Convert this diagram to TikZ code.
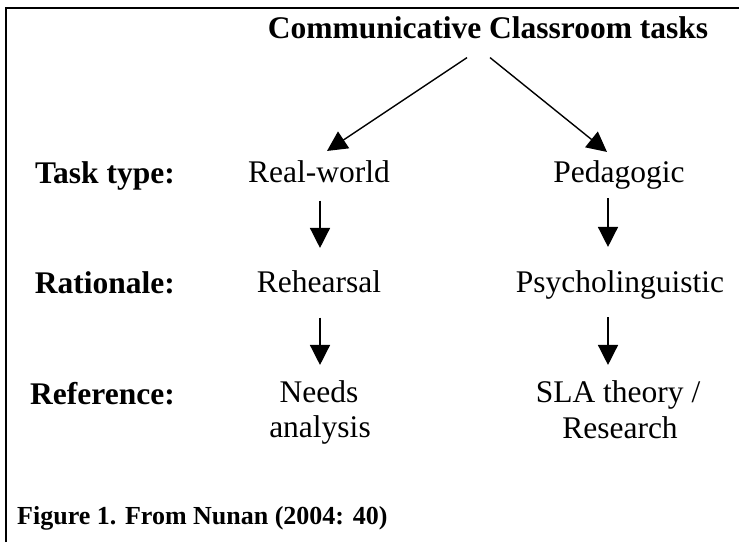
\documentclass[tikz,border=0pt]{standalone}
\usepackage{fontspec}
\setmainfont{Liberation Serif}
\usetikzlibrary{arrows.meta,calc}

\begin{document}
\begin{tikzpicture}[x=1pt,y=-1pt,
  title/.style={font=\fontsize{31.5}{36}\selectfont\bfseries,anchor=base,inner sep=0pt},
  lbl/.style={font=\fontsize{31.5}{36}\selectfont\bfseries,anchor=base east,inner sep=0pt},
  item/.style={font=\fontsize{31.5}{36}\selectfont,anchor=base,inner sep=0pt},
  figcap/.style={font=\fontsize{26}{30}\selectfont\bfseries,anchor=base west,inner sep=0pt},
  arr/.style={-{Triangle[width=20pt,length=20pt]},line width=1.4pt},
  frame/.style={line width=2pt}]
  \useasboundingbox (0,0) rectangle (739,542);
  \draw[frame] (6,542) -- (6,8) -- (739,8);
  % heading
  \node[title] (top) at (488,38) {Communicative Classroom tasks};
  % row labels
  \node[lbl] (ltype) at (175,183) {Task type:};
  \node[lbl] (lrat) at (175,293) {Rationale:};
  \node[lbl] (lref) at (175,404) {Reference:};
  % left column
  \node[item] (rw) at (319,182) {Real-world};
  \node[item] (rh) at (319,292) {Rehearsal};
  \node[item] (na1) at (319,402) {Needs};
  \node[item] (na2) at (320,437) {analysis};
  % right column
  \node[item] (pg) at (619,182) {Pedagogic};
  \node[item] (ps) at (620,292) {Psycholinguistic};
  \node[item] (sla1) at (618,402) {SLA theory /};
  \node[item] (sla2) at (620,438) {Research};
  \node[figcap] (fig) at (17,524) {Figure 1. From Nunan (2004: 40)};
  % arrows
  \draw[arr] ($(top.south)+(-21,19)$) -- ($(rw.north)+(8,-9)$);
  \draw[arr] ($(top.south)+(2,19)$) -- ($(pg.north)+(-12,-8)$);
  \draw[arr] ($(rw.south)+(1,18)$) -- ($(rh.north)+(1,-22)$);
  \draw[arr] ($(rh.south)+(1,25)$) -- ($(na1.north)+(1,-15)$);
  \draw[arr] ($(pg.south)+(-11,9)$) -- ($(ps.north)+(-12,-23)$);
  \draw[arr] ($(ps.south)+(-12,18)$) -- ($(sla1.north)+(-10,-15)$);
\end{tikzpicture}
\end{document}
